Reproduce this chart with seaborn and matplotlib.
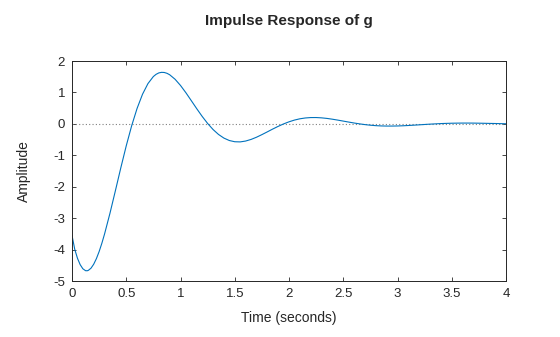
import matplotlib
matplotlib.use("Agg")
import matplotlib.pyplot as plt
import seaborn as sns
import pandas as pd

# Time samples (seconds) and amplitude values
time_s = [0.00, 0.025, 0.05, 0.075, 0.10, 0.125, 0.14, 0.15, 0.175, 0.20, 0.225, 0.25, 0.275,
          0.30, 0.35, 0.40, 0.45,
          0.50, 0.55, 0.60, 0.65, 0.70, 0.75, 0.775, 0.80, 0.825, 0.85, 0.875, 0.90, 0.95,
          1.00, 1.05, 1.10, 1.15, 1.20, 1.25, 1.30, 1.35, 1.40, 1.45,
          1.50, 1.55, 1.60, 1.65, 1.70, 1.75, 1.80, 1.85, 1.90, 1.95,
          2.00, 2.05, 2.10, 2.15, 2.20, 2.25, 2.30, 2.35, 2.40, 2.45,
          2.50, 2.55, 2.60, 2.65, 2.70, 2.75, 2.80, 2.85, 2.90, 2.95,
          3.00, 3.05, 3.10, 3.15, 3.20, 3.25, 3.30, 3.35, 3.40, 3.45,
          3.50, 3.55, 3.60, 3.65, 3.70, 3.75, 3.80, 3.85, 3.90, 3.95,
          4.00]
amplitude = [-3.55, -3.987, -4.273, -4.478, -4.611, -4.672, -4.674, -4.663, -4.593, -4.466, -4.287, -4.064, -3.801,
             -3.505, -2.843, -2.126, -1.397,
             -0.698, -0.059, 0.493, 0.943, 1.281, 1.506, 1.576, 1.621, 1.639, 1.635, 1.609, 1.563, 1.419,
             1.222, 0.989, 0.736, 0.481, 0.236, 0.013, -0.180, -0.336, -0.453, -0.530,
             -0.569, -0.574, -0.547, -0.496, -0.426, -0.343, -0.255, -0.165, -0.080, -0.002,
             0.065, 0.120, 0.161, 0.187, 0.200, 0.201, 0.191, 0.173, 0.148, 0.119,
             0.088, 0.057, 0.027, 0.000, -0.024, -0.043, -0.057, -0.066, -0.070, -0.070,
             -0.067, -0.061, -0.052, -0.042, -0.031, -0.020, -0.009, 0.000, 0.009, 0.015,
             0.020, 0.023, 0.025, 0.025, 0.024, 0.021, 0.018, 0.014, 0.011, 0.007,
             0.003]

x_ticks = [0, 0.5, 1, 1.5, 2, 2.5, 3, 3.5, 4]
x_tick_labels = ["0", "0.5", "1", "1.5", "2", "2.5", "3", "3.5", "4"]
y_ticks = [-5, -4, -3, -2, -1, 0, 1, 2]
y_tick_labels = ["-5", "-4", "-3", "-2", "-1", "0", "1", "2"]

title = "Impulse Response of g"
x_label = "Time (seconds)"
y_label = "Amplitude"

sns.set_theme(style="ticks")
plt.rcParams["font.family"] = ["Liberation Sans", "DejaVu Sans"]
text_color = "#262626"

df = pd.DataFrame({"t": time_s, "y": amplitude})

fig = plt.figure(figsize=(5.6, 3.37), dpi=100)
ax = fig.add_axes([72 / 560, 1 - 281 / 337, (506 - 72) / 560, (281 - 61) / 337])

ax.axhline(0, color="#808080", linestyle=(0, (1, 2)), linewidth=0.8, zorder=1)
sns.lineplot(data=df, x="t", y="y", ax=ax, color="#0072BD", linewidth=0.8, zorder=2)

ax.set_xlim(0, 4)
ax.set_ylim(-5, 2)
ax.set_xticks(x_ticks)
ax.set_xticklabels(x_tick_labels)
ax.set_yticks(y_ticks)
ax.set_yticklabels(y_tick_labels)

ax.tick_params(direction="in", length=3, width=0.6, top=True, right=True,
               labelsize=9.5, colors="#262626", labelcolor=text_color, pad=5)
for s in ax.spines.values():
    s.set_visible(True)
    s.set_linewidth(0.7)
    s.set_color("#262626")

ax.set_xlabel(x_label, fontsize=10, color=text_color, labelpad=8)
ax.set_ylabel(y_label, fontsize=10, color=text_color, labelpad=16)
ax.set_title(title, fontsize=11, fontweight="bold", color=text_color, pad=26)

fig.savefig("out.png", dpi=100)
